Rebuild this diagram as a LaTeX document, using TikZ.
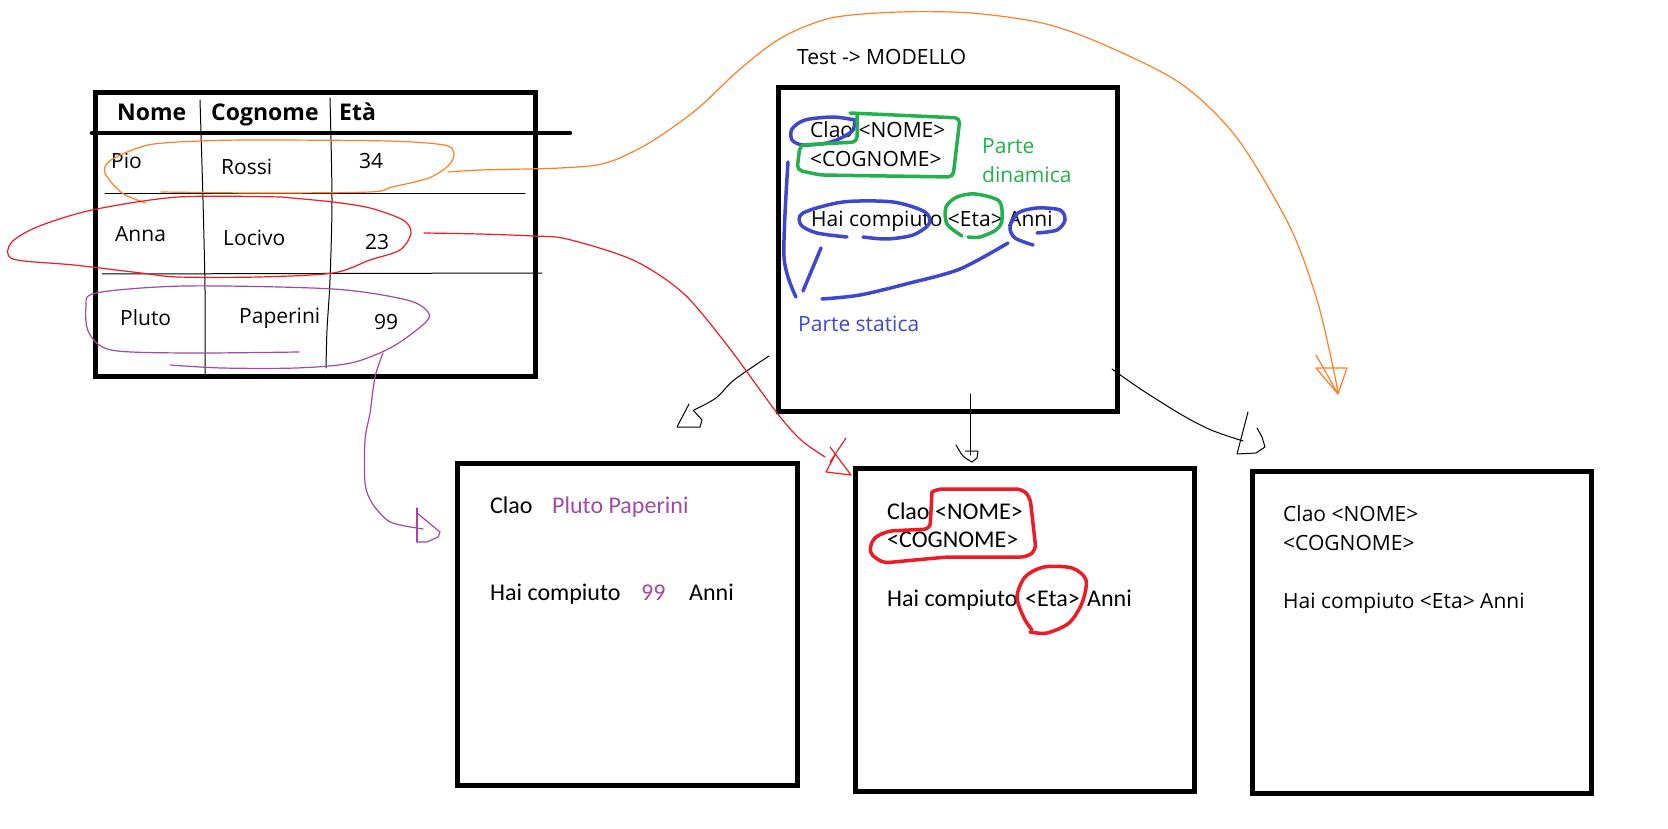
\documentclass[tikz,border=0pt]{standalone}
\usepackage{fontspec}
\setmainfont{Open Sans}
\newfontfamily\calib{Carlito}
\definecolor{pblue}{HTML}{3F48CC}
\definecolor{pgreen}{HTML}{22B14C}
\definecolor{pred}{HTML}{ED1C24}
\definecolor{porange}{HTML}{FF7F27}
\definecolor{ppurple}{HTML}{A349A4}
\tikzset{
  frame/.style={draw=black, line width=5pt, anchor=north west, inner sep=0pt, outer sep=0pt},
  seg/.style={font=\fontsize{21}{25}\selectfont, anchor=base west, inner sep=0pt},
  hdr/.style={font=\bfseries\fontsize{23}{27}\selectfont, anchor=base west, inner sep=0pt},
  cal/.style={font=\calib\fontsize{24}{28}\selectfont, anchor=base west, inner sep=0pt},
  pen/.style={line width=1.2pt, line join=round, line cap=round},
  thinpen/.style={line width=1pt, line join=round, line cap=round},
  marker/.style={line width=3.5pt, line join=round, line cap=round},
}
\begin{document}
\begin{tikzpicture}[x=1pt,y=-1pt]
\useasboundingbox (0,0) rectangle (1668,829);
\fill[white] (0,0) rectangle (1668,829);

% ---------- frames ----------
\node[frame, minimum width=440pt, minimum height=283pt] (tab) at (95,93) {};
\node[frame, minimum width=339pt, minimum height=323pt] (model) at (778,88) {};
\node[frame, minimum width=340pt, minimum height=322pt] (outA) at (457,463) {};
\node[frame, minimum width=339pt, minimum height=323pt] (outB) at (855,468) {};
\node[frame, minimum width=339pt, minimum height=322pt] (outC) at (1252,471) {};

% ---------- table ----------
\draw[line width=4.5pt, line cap=round] (92,133) -- (570,133);
\draw[thinpen] plot[smooth] coordinates {(200,100) (203,200) (205,290) (205,375)};
\draw[thinpen] plot[smooth] coordinates {(330,98) (332,200) (330,280) (327,330) (326,368)};
\draw[thinpen] (105,194) -- (525,194);
\draw[thinpen] (102,274) -- (542,273);

\node[hdr] (hNome) at (117,121) {Nome};
\node[hdr] (hCogn) at (211,121) {Cognome};
\node[hdr] (hEta) at (339,121) {Età};

\node[seg] (r1a) at (111,169) {Pio};
\node[seg] (r1b) at (221,175) {Rossi};
\node[seg] (r1c) at (359,169) {34};
\node[seg] (r2a) at (115,241) {Anna};
\node[seg] (r2b) at (223,245) {Locivo};
\node[seg] (r2c) at (365,250) {23};
\node[seg] (r3a) at (120,325) {Pluto};
\node[seg] (r3b) at (239,323) {Paperini};
\node[seg] (r3c) at (374,329) {99};

% ---------- model box ----------
\node[seg] (title) at (797,65) {Test -> MODELLO};
\node[seg] (m1) at (810,138) {Clao <NOME>};
\node[seg] (m2) at (810,167) {<COGNOME>};
\node[seg] (m3) at (811,226) {Hai compiuto <Eta> Anni};
\node[seg, text=pgreen] (dyn1) at (982,154) {Parte};
\node[seg, text=pgreen] (dyn2) at (982,183) {dinamica};
\node[seg, text=pblue] (stat) at (798,331) {Parte statica};

% blue marks
\draw[marker, pblue] plot[smooth] coordinates {(855,120) (833,117) (805,120) (792,129) (792,140) (803,145) (827,143) (843,137) (853,130) (855,120)};
\draw[marker, pblue] plot[smooth] coordinates {(863,237) (887,239) (913,235) (929,224) (925,212) (893,202) (843,202) (803,213) (801,225) (817,233) (847,237)};
\draw[marker, pblue] plot[smooth] coordinates {(1033,245) (1015,238) (1010,227) (1018,213) (1037,208) (1060,210) (1065,220) (1057,230) (1037,233)};
\draw[marker, pblue] plot[smooth] coordinates {(788,162) (784,257) (796,297)};
\draw[marker, pblue] (821,248) -- (803,291);
\draw[marker, pblue] plot[smooth] coordinates {(822,299) (860,295) (910,283) (960,269) (1008,243)};
% green marks
\draw[marker, pgreen, rounded corners=5pt] (850,113) -- (960,118) -- (953,177) -- (820,175) -- (797,170) -- (800,145) -- (857,142) -- (857,115);
\draw[marker, pgreen] plot[smooth] coordinates {(962,236) (947,224) (946,207) (957,197) (975,194) (999,201) (1002,220) (996,230) (980,237) (968,237)};

% ---------- output A ----------
\node[cal] (a1) at (490,513) {Clao};
\node[cal, text=ppurple] (a2) at (552,513) {Pluto Paperini};
\node[cal] (a3) at (490,600) {Hai compiuto};
\node[cal, text=ppurple] (a4) at (641,600) {99};
\node[cal] (a5) at (689,600) {Anni};

% ---------- output B ----------
\node[cal] (b1) at (887,519) {Clao};
\node[cal] (b2) at (935,519) {<NOME>};
\node[cal] (b3) at (887,547) {<COGNOME>};
\node[cal] (b4) at (887,606) {Hai compiuto};
\node[cal] (b5) at (1025,606) {<Eta>};
\node[cal] (b6) at (1087,606) {Anni};
\draw[marker, pred, rounded corners=6pt] (932,492) -- (937,489) -- (1022,489) -- (1030,497) -- (1036,550) -- (1027,557) -- (947,557) -- (883,563) -- (869,553) -- (873,538) -- (888,531) -- (930,529) -- (932,492);
\draw[marker, pred] plot[smooth] coordinates {(1032,630) (1024,618) (1017,597) (1025,577) (1044,567) (1072,568) (1086,580) (1082,603) (1069,623) (1047,633) (1030,632)};

% ---------- output C ----------
\node[seg] (c1) at (1283,521) {Clao <NOME>};
\node[seg] (c2) at (1283,550) {<COGNOME>};
\node[seg] (c3) at (1283,608) {Hai compiuto <Eta> Anni};

% ---------- black arrows from model ----------
\draw[thinpen] plot[smooth] coordinates {(769,356) (734,380) (716,398) (694,410)};
\draw[thinpen] (689,404) -- (677,427) -- (700,427) -- (702,420) -- (693,410);
\draw[thinpen] (970,394) -- (970,455);
\draw[thinpen] plot[smooth] coordinates {(956,445) (963,456) (972,462)};
\draw[thinpen] (965,451) -- (978,451) -- (977,458) -- (972,462);
\draw[thinpen] plot[smooth] coordinates {(1112,369) (1142,390) (1182,415) (1211,430) (1243,441)};
\draw[thinpen] (1248,412) -- (1237,454) -- (1256,453) -- (1265,447) -- (1262,437) -- (1257,428);

% ---------- orange ----------
\draw[pen, porange] plot[smooth] coordinates {(146,203) (122,193) (105,173) (111,160) (148,145) (200,141) (259,140) (388,141) (444,145) (454,153) (449,165) (429,178) (392,187) (370,192) (259,193) (161,192)};
\draw[pen, porange] plot[smooth] coordinates {(448,172) (481,170) (560,168) (606,163) (649,143) (696,110) (739,70) (781,38) (831,18) (899,12) (971,13) (1042,23) (1100,43) (1180,83) (1237,138) (1290,227) (1317,300) (1333,367) (1338,393)};
\draw[pen, porange] (1316,368) -- (1347,368) -- (1338,394) -- cycle;
\draw[pen, porange] (1316,355) -- (1338,394);

% ---------- red ----------
\draw[pen, pred] plot[smooth] coordinates {(281,197) (178,197) (92,210) (37,227) (11,243) (13,259) (74,265) (141,273) (178,277) (259,277) (333,273) (370,260) (400,250) (411,233) (403,220) (370,208) (333,202) (281,197)};
\draw[pen, pred] plot[smooth] coordinates {(424,233) (480,234) (533,236) (567,239) (633,260) (683,293) (727,345) (777,413) (801,440) (825,457)};
\draw[pen, pred] (846,438) -- (830,462);
\draw[pen, pred] (830,447) -- (851,475) -- (826,472) -- (835,455);

% ---------- purple ----------
\draw[pen, ppurple] plot[smooth] coordinates {(299,352) (185,353) (111,350) (89,333) (86,307) (96,293) (185,286) (333,289) (407,300) (428,312) (425,323) (392,347) (351,363) (296,368) (222,368) (170,365)};
\draw[pen, ppurple] plot[smooth] coordinates {(383,353) (375,377) (370,413) (365,440) (365,483) (372,503) (387,520) (400,525) (423,529)};
\draw[pen, ppurple] (417,508) -- (417,542);
\draw[pen, ppurple] (417,513) -- (440,532) -- (438,537) -- (427,542) -- (417,542);
\end{tikzpicture}
\end{document}
